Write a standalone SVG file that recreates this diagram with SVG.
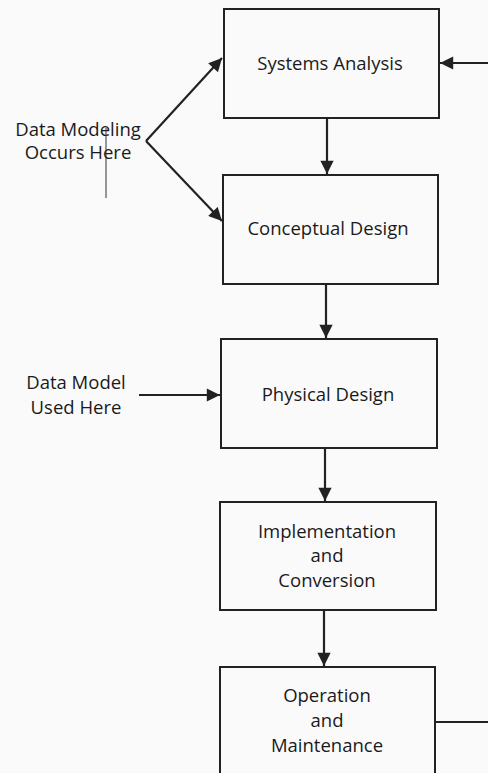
<svg xmlns="http://www.w3.org/2000/svg" width="488" height="773" viewBox="0 0 488 773">
<style>
.box{fill:none;stroke:#222;stroke-width:2}
.ln{fill:none;stroke:#222;stroke-width:2.2}
text{font-family:"Open Sans","Liberation Sans",sans-serif;font-size:18.5px;fill:#1a1a1a;text-anchor:middle}
</style>
<defs>
<marker id="ah" viewBox="0 0 10 10" refX="10" refY="5" markerWidth="6.5" markerHeight="6" orient="auto" markerUnits="strokeWidth">
<path d="M0,0 L10,5 L0,10 z" fill="#222"/>
</marker>
</defs>
<rect width="488" height="773" fill="#fafafa"/>
<g id="n1"><rect class="box" x="224" y="9" width="215" height="109"/><text x="330" y="70">Systems Analysis</text></g>
<g id="n2"><rect class="box" x="223" y="175" width="215" height="109"/><text x="328" y="235">Conceptual Design</text></g>
<g id="n3"><rect class="box" x="221" y="339" width="216" height="109"/><text x="328" y="401">Physical Design</text></g>
<g id="n4"><rect class="box" x="220" y="502" width="216" height="108"/><text x="327" y="538">Implementation</text><text x="327" y="562">and</text><text x="327" y="587">Conversion</text></g>
<g id="n5"><rect class="box" x="220" y="667" width="215" height="130"/><text x="327" y="702">Operation</text><text x="327" y="727">and</text><text x="327" y="752">Maintenance</text></g>
<g id="l1"><text x="78" y="136">Data Modeling</text><text x="78" y="159">Occurs Here</text><line x1="106" y1="128" x2="106" y2="198" stroke="#333" stroke-width="1"/></g>
<g id="l2"><text x="76" y="389">Data Model</text><text x="76" y="414">Used Here</text></g>
<g id="edges">
<line class="ln" x1="327" y1="118" x2="327" y2="174" marker-end="url(#ah)"/>
<line class="ln" x1="326" y1="284" x2="326" y2="338" marker-end="url(#ah)"/>
<line class="ln" x1="325" y1="448" x2="325" y2="501" marker-end="url(#ah)"/>
<line class="ln" x1="324" y1="610" x2="324" y2="666" marker-end="url(#ah)"/>
<line class="ln" x1="146" y1="141" x2="222" y2="221" marker-end="url(#ah)"/>
<line class="ln" x1="146" y1="141" x2="222" y2="58" marker-end="url(#ah)"/>
<line class="ln" x1="139" y1="395" x2="220" y2="395" marker-end="url(#ah)"/>
<line class="ln" x1="435" y1="722" x2="490" y2="722"/>
<line class="ln" x1="490" y1="63" x2="440" y2="63" marker-end="url(#ah)"/>
</g>
</svg>
